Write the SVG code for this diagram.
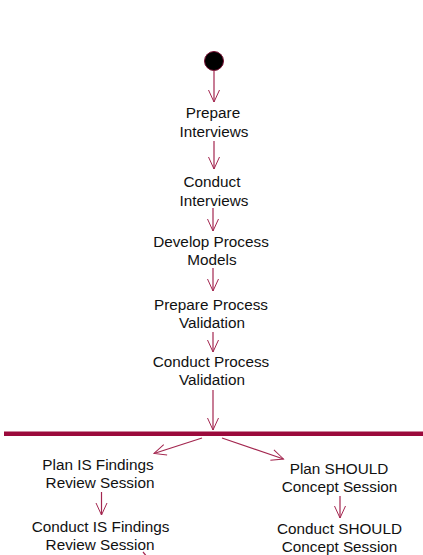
<svg xmlns="http://www.w3.org/2000/svg" width="423" height="555" viewBox="0 0 423 555">
<defs>
<marker id="arr" markerUnits="userSpaceOnUse" markerWidth="16" markerHeight="16" viewBox="-14 -8 16 16" refX="0" refY="0" orient="auto">
<path d="M -12 -5.5 L 0 0 L -12 5.5" fill="none" stroke="#a3264f" stroke-width="1"/>
</marker>
</defs>
<style>
.t{font-family:"Liberation Sans",Arial,sans-serif;font-size:15.3px;fill:#111;text-anchor:middle}
.c{stroke:#a3264f;stroke-width:1.2;fill:none;marker-end:url(#arr)}
</style>
<rect width="423" height="555" fill="#fff"/>
<g id="start"><circle cx="214" cy="61" r="9.5" fill="#000" stroke="#7a1034" stroke-width="1"/></g>
<g id="fork"><rect x="4" y="431.5" width="419" height="4.5" fill="#9b0a3c"/></g>
<g id="n1"><text class="t" x="213" y="118">Prepare</text><text class="t" x="214" y="137">Interviews</text></g>
<g id="n2"><text class="t" x="212" y="187">Conduct</text><text class="t" x="214" y="206">Interviews</text></g>
<g id="n3"><text class="t" x="211" y="247">Develop Process</text><text class="t" x="212" y="265">Models</text></g>
<g id="n4"><text class="t" x="211" y="310">Prepare Process</text><text class="t" x="212" y="328">Validation</text></g>
<g id="n5"><text class="t" x="211" y="367">Conduct Process</text><text class="t" x="212" y="385">Validation</text></g>
<g id="n6"><text class="t" x="98" y="470">Plan IS Findings</text><text class="t" x="100" y="488">Review Session</text></g>
<g id="n7"><text class="t" x="100.5" y="532">Conduct IS Findings</text><text class="t" x="100" y="550">Review Session</text></g>
<g id="n8"><text class="t" x="339" y="474">Plan SHOULD</text><text class="t" x="339.5" y="492">Concept Session</text></g>
<g id="n9"><text class="t" x="339.5" y="534">Conduct SHOULD</text><text class="t" x="339.5" y="552">Concept Session</text></g>
<g id="connectors">
<line class="c" x1="214" y1="70.5" x2="214" y2="102"/>
<line class="c" x1="214" y1="141" x2="214" y2="169"/>
<line class="c" x1="213" y1="208" x2="213" y2="231"/>
<line class="c" x1="213" y1="268" x2="213" y2="291"/>
<line class="c" x1="213" y1="332" x2="213" y2="352"/>
<line class="c" x1="213" y1="390" x2="213" y2="430"/>
<line class="c" x1="202" y1="438" x2="154" y2="453.5"/>
<line class="c" x1="222" y1="438" x2="283.5" y2="459"/>
<line class="c" x1="101.5" y1="492" x2="101.5" y2="515"/>
<line class="c" x1="340" y1="496" x2="340" y2="518"/>
<line x1="143" y1="552" x2="148" y2="558" stroke="#a3264f" stroke-width="1.2"/>
</g>
</svg>
